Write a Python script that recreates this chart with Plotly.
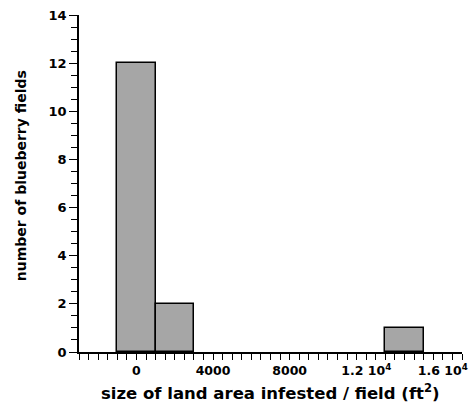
import plotly.graph_objects as go

# Histogram data: bin centers (ft^2), bin width, counts
bin_centers = [0, 2000, 14000]
bin_width = 2000
counts = [12, 2, 1]

x_tickvals = [0, 4000, 8000, 12000, 16000]
x_ticktext = ["0", "4000", "8000", "1.2 10<sup>4</sup>", "1.6 10<sup>4</sup>"]
y_tickvals = [0, 2, 4, 6, 8, 10, 12, 14]

x_title = "size of land area infested / field (ft<sup>2</sup>)"
y_title = "number of blueberry fields"

FONT = "DejaVu Sans"

fig = go.Figure()
fig.add_trace(go.Bar(
    x=bin_centers, y=counts, width=[bin_width] * len(counts),
    marker=dict(color="#a6a6a6", line=dict(color="black", width=1.5)),
))

fig.update_layout(
    width=471, height=404,
    margin=dict(l=79, r=9, t=15, b=52, autoexpand=False),
    paper_bgcolor="white", plot_bgcolor="white",
    showlegend=False,
    font=dict(family=FONT, color="black", size=13, weight="bold"),
    bargap=0,
)
fig.update_xaxes(
    range=[-3000, 17000], showgrid=False, zeroline=False, automargin=False,
    showline=True, linecolor="black", linewidth=1.5,
    tickmode="array", tickvals=x_tickvals, ticktext=x_ticktext,
    ticks="outside", ticklen=6, tickwidth=1.2, tickcolor="black",
    minor=dict(dtick=500, tick0=0, ticks="outside", ticklen=6, tickwidth=1.2, tickcolor="black"),
    tickfont=dict(family=FONT, size=12.5, weight="bold"),
)
fig.update_yaxes(
    range=[0, 14], showgrid=False, zeroline=False, automargin=False,
    showline=True, linecolor="black", linewidth=1.5,
    tickmode="array", tickvals=y_tickvals,
    ticks="outside", ticklen=8, tickwidth=1.2, tickcolor="black",
    minor=dict(dtick=0.5, tick0=0, ticks="outside", ticklen=6, tickwidth=1.2, tickcolor="black"),
    tickfont=dict(family=FONT, size=13, weight="bold"),
)
fig.add_annotation(
    text=x_title, xref="paper", yref="paper", x=0.501, y=-0.119,
    xanchor="center", yanchor="middle", showarrow=False,
    font=dict(family=FONT, size=16.5, weight="bold", color="black"),
)
fig.add_annotation(
    text=y_title, xref="paper", yref="paper", x=-0.151, y=0.522,
    xanchor="center", yanchor="middle", showarrow=False, textangle=-90,
    font=dict(family=FONT, size=14, weight="bold", color="black"),
)

fig.write_html(
    "out.html",
    config={"displayModeBar": False},
    post_script="document.body.style.margin='0';document.body.style.overflow='hidden';",
)
